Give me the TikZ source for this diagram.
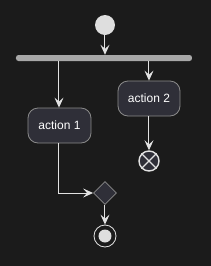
\documentclass[tikz,border=0pt]{standalone}
\usepackage{fontspec}
\setmainfont{Liberation Sans}
\usetikzlibrary{arrows.meta,shapes.geometric}
\definecolor{bg}{HTML}{1B1B1B}
\definecolor{boxfill}{HTML}{2F2F38}
\definecolor{boxline}{HTML}{8A8A8A}
\definecolor{lineclr}{HTML}{E2E2E2}
\definecolor{barclr}{HTML}{A8A8A8}
\definecolor{startclr}{HTML}{DEDEDE}
\tikzset{
  actbox/.style={draw=boxline, fill=boxfill, line width=0.8pt, rounded corners=10pt,
    minimum width=63pt, minimum height=35pt, text=white, font=\fontsize{12pt}{14pt}\selectfont, inner sep=0pt},
  conn/.style={draw=lineclr, line width=1pt, -{Stealth[length=10pt,width=9pt,inset=4pt]}},
}
\begin{document}
\begin{tikzpicture}[x=1pt,y=-1pt]
\useasboundingbox[fill=bg] (0,0) rectangle (211,266);
\node[circle, fill=startclr, minimum size=20pt, inner sep=0pt] (start) at (105,25) {};
\node[fill=barclr, rounded corners=2.5pt, minimum width=176pt, minimum height=6pt, inner sep=0pt] (bar) at (104,58) {};
\node[actbox] (a1) at (59.5,125.5) {action 1};
\node[actbox, minimum width=62pt] (a2) at (149,98.5) {action 2};
\node[circle, draw=lineclr, line width=1.4pt, fill=boxfill, minimum size=20pt, inner sep=0pt] (stop) at (149,161) {};
\draw[lineclr, line width=1.4pt] (stop.north east) -- (stop.south west) (stop.north west) -- (stop.south east);
\node[diamond, draw=boxline, fill=boxfill, line width=0.8pt, minimum width=23pt, minimum height=23pt, inner sep=0pt] (merge) at (105,193) {};
\node[circle, draw=lineclr, line width=0.8pt, fill=bg, minimum size=22pt, inner sep=0pt] (end) at (105,236) {};
\node[circle, fill=startclr, minimum size=13pt, inner sep=0pt] (endin) at (105,236) {};
\draw[conn] (start) -- (bar.north -| start);
\coordinate (b1) at (59,61);
\coordinate (b2) at (149,61);
\draw[conn] (b1) -- (a1.north -| b1);
\draw[conn] (b2) -- (a2.north);
\draw[conn] (a2.south) -- (stop.north);
\draw[conn] (a1.south -| b1) |- (merge.west);
\draw[conn] (merge.south) -- (end.north);
\end{tikzpicture}
\end{document}
